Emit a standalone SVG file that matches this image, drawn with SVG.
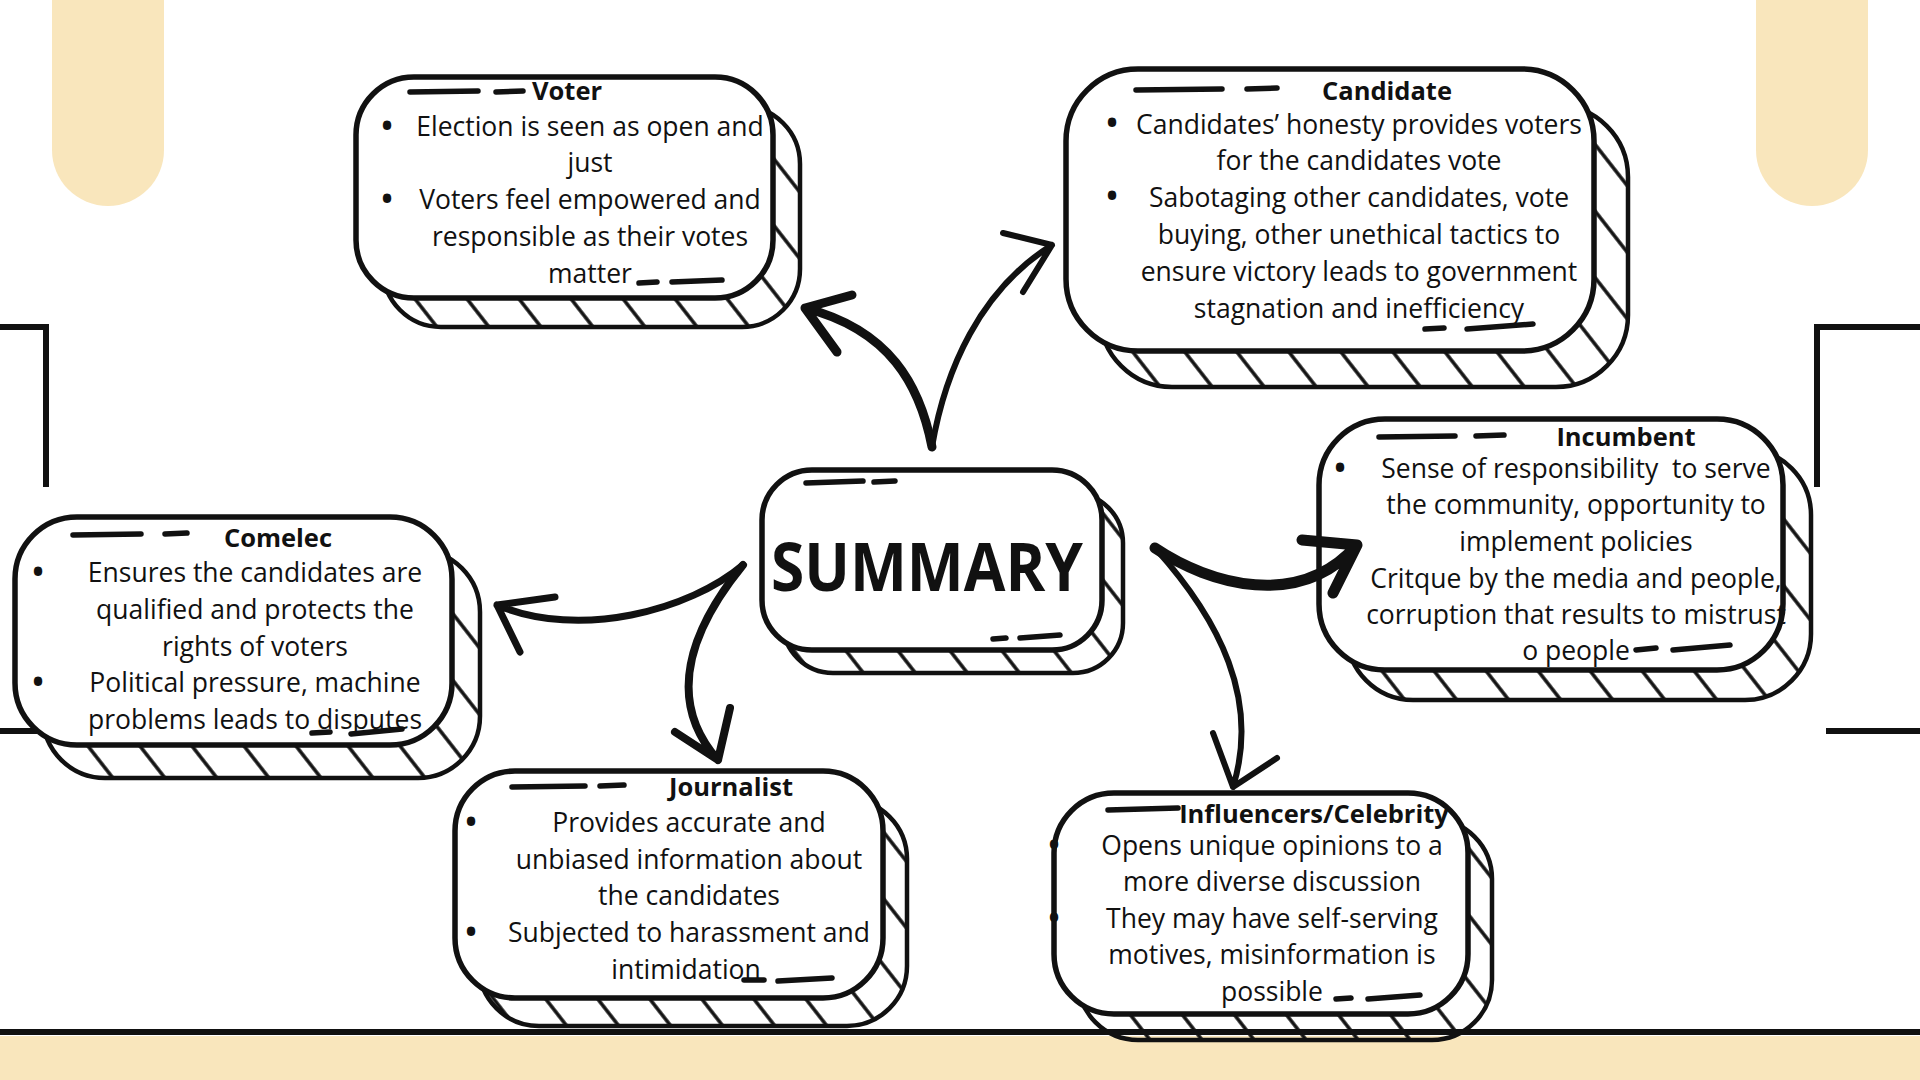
<svg xmlns="http://www.w3.org/2000/svg" width="1920" height="1080" viewBox="0 0 1920 1080">
<defs>
<pattern id="hatch" width="41" height="41" patternUnits="userSpaceOnUse" patternTransform="rotate(-38)">
<line x1="20" y1="-5" x2="20" y2="46" stroke="#111" stroke-width="3.5"/>
</pattern>
<style>
.back{fill:url(#hatch);stroke:#111;stroke-width:4.5}
.front{fill:#fff;stroke:#111;stroke-width:5.5}
.t{font-family:"Open Sans","Liberation Sans",sans-serif;font-size:26.5px;fill:#111;text-anchor:middle;white-space:pre}
.b{font-family:"Open Sans","Liberation Sans",sans-serif;font-size:40px;fill:#111;text-anchor:middle}
.h{font-family:"Open Sans","Liberation Sans",sans-serif;font-size:25.5px;font-weight:bold;fill:#111;text-anchor:middle}
.dash{stroke:#111;stroke-width:5.5;stroke-linecap:round;fill:none}
.arrow{fill:none;stroke:#111;stroke-linecap:round;stroke-linejoin:round}
.beige{fill:#F9E6BC}
.deco{stroke:#111;stroke-width:6;fill:none}
</style>
</defs>
<rect width="1920" height="1080" fill="#fff"/>
<rect class="beige" x="52" y="-80" width="112" height="286" rx="56"/>
<rect class="beige" x="1756" y="-80" width="112" height="286" rx="56"/>
<rect class="beige" x="0" y="1036" width="1920" height="44"/>

<g id="node-voter">
<rect class="back" x="383" y="106" width="417" height="221" rx="58"/>
<rect class="front" x="356" y="77" width="417" height="221" rx="58"/>
<line class="dash" x1="410" y1="92" x2="478" y2="91"/><line class="dash" x1="496" y1="92" x2="523" y2="91"/>
<text class="h" x="567" y="100">Voter</text>
<text class="b" x="387" y="140">•</text><text class="t" x="590" y="136">Election is seen as open and</text>
<text class="t" x="590" y="172">just</text>
<text class="b" x="387" y="213">•</text><text class="t" x="590" y="209">Voters feel empowered and</text>
<text class="t" x="590" y="246">responsible as their votes</text>
<text class="t" x="590" y="283">matter</text>
<line class="dash" x1="639" y1="283" x2="657" y2="282"/><line class="dash" x1="672" y1="282" x2="722" y2="280"/>
</g>

<g id="node-candidate">
<rect class="back" x="1100" y="105" width="528" height="282" rx="72"/>
<rect class="front" x="1066" y="69" width="528" height="282" rx="72"/>
<line class="dash" x1="1136" y1="90" x2="1222" y2="89"/><line class="dash" x1="1247" y1="89" x2="1277" y2="88"/>
<text class="h" x="1387" y="100">Candidate</text>
<text class="b" x="1112" y="137">•</text><text class="t" x="1359" y="134">Candidates’ honesty provides voters</text>
<text class="t" x="1359" y="170">for the candidates vote</text>
<text class="b" x="1112" y="210">•</text><text class="t" x="1359" y="207">Sabotaging other candidates, vote</text>
<text class="t" x="1359" y="244">buying, other unethical tactics to</text>
<text class="t" x="1359" y="281">ensure victory leads to government</text>
<text class="t" x="1359" y="318">stagnation and inefficiency</text>
<line class="dash" x1="1425" y1="329" x2="1444" y2="328"/><line class="dash" x1="1467" y1="329" x2="1533" y2="324"/>
</g>

<g id="node-summary">
<rect class="back" x="783" y="493" width="340" height="180" rx="50"/>
<rect class="front" x="762" y="470" width="340" height="180" rx="50"/>
<line class="dash" x1="806" y1="483" x2="863" y2="481"/><line class="dash" x1="874" y1="482" x2="895" y2="481"/>
<text class="h" x="927" y="591" style="font-size:66px" textLength="312" lengthAdjust="spacingAndGlyphs">SUMMARY</text>
<line class="dash" x1="993" y1="639" x2="1006" y2="638"/><line class="dash" x1="1020" y1="638" x2="1060" y2="635"/>
</g>

<g id="node-comelec">
<rect class="back" x="43" y="550" width="437" height="228" rx="62"/>
<rect class="front" x="15" y="517" width="437" height="228" rx="62"/>
<line class="dash" x1="73" y1="535" x2="141" y2="534"/><line class="dash" x1="165" y1="534" x2="187" y2="533"/>
<text class="h" x="278" y="547">Comelec</text>
<text class="b" x="38" y="586">•</text><text class="t" x="255" y="582">Ensures the candidates are</text>
<text class="t" x="255" y="619">qualified and protects the</text>
<text class="t" x="255" y="656">rights of voters</text>
<text class="b" x="38" y="696">•</text><text class="t" x="255" y="692">Political pressure, machine</text>
<text class="t" x="255" y="729">problems leads to disputes</text>
<line class="dash" x1="312" y1="733" x2="330" y2="732"/><line class="dash" x1="351" y1="734" x2="402" y2="729"/>
</g>

<g id="node-incumbent">
<rect class="back" x="1347" y="449" width="464" height="251" rx="66"/>
<rect class="front" x="1319" y="419" width="464" height="251" rx="66"/>
<line class="dash" x1="1379" y1="437" x2="1455" y2="436"/><line class="dash" x1="1476" y1="436" x2="1504" y2="435"/>
<text class="h" x="1626" y="446">Incumbent</text>
<text class="b" x="1340" y="482">•</text><text class="t" x="1576" y="478">Sense of responsibility  to serve</text>
<text class="t" x="1576" y="514">the community, opportunity to</text>
<text class="t" x="1576" y="551">implement policies</text>
<text class="t" x="1576" y="588">Critque by the media and people,</text>
<text class="t" x="1576" y="624">corruption that results to mistrust</text>
<text class="t" x="1576" y="660">o people</text>
<line class="dash" x1="1636" y1="650" x2="1656" y2="648"/><line class="dash" x1="1673" y1="650" x2="1730" y2="645"/>
</g>

<g id="node-journalist">
<rect class="back" x="479" y="799" width="428" height="227" rx="60"/>
<rect class="front" x="455" y="771" width="428" height="227" rx="60"/>
<line class="dash" x1="512" y1="787" x2="585" y2="786"/><line class="dash" x1="600" y1="786" x2="624" y2="785"/>
<text class="h" x="731" y="796">Journalist</text>
<text class="b" x="471" y="836">•</text><text class="t" x="689" y="832">Provides accurate and</text>
<text class="t" x="689" y="869">unbiased information about</text>
<text class="t" x="689" y="905">the candidates</text>
<text class="b" x="471" y="946">•</text><text class="t" x="689" y="942">Subjected to harassment and</text>
<text class="t" x="686" y="979">intimidation</text>
<line class="dash" x1="744" y1="980" x2="764" y2="980"/><line class="dash" x1="778" y1="981" x2="832" y2="978"/>
</g>

<g id="node-influencers">
<rect class="back" x="1078" y="819" width="414" height="221" rx="60"/>
<rect class="front" x="1054" y="793" width="414" height="221" rx="60"/>
<line class="dash" x1="1108" y1="810" x2="1178" y2="808"/>
<text class="h" x="1314" y="823">Influencers/Celebrity</text>
<text class="b" x="1054" y="859">•</text><text class="t" x="1272" y="855">Opens unique opinions to a</text>
<text class="t" x="1272" y="891">more diverse discussion</text>
<text class="b" x="1054" y="932">•</text><text class="t" x="1272" y="928">They may have self-serving</text>
<text class="t" x="1272" y="964">motives, misinformation is</text>
<text class="t" x="1272" y="1001">possible</text>
<line class="dash" x1="1336" y1="999" x2="1351" y2="998"/><line class="dash" x1="1368" y1="999" x2="1420" y2="995"/>
</g>

<g id="connectors">
<path class="arrow" stroke-width="9" d="M932,447 C920,385 890,330 805,308 M852,295 L805,308 L837,352"/>
<path class="arrow" stroke-width="6" d="M932,447 C945,370 980,290 1052,245 M1003,233 L1052,245 L1023,292"/>
<path class="arrow" stroke-width="7" d="M743,565 C690,610 580,640 497,605 M555,597 L497,605 L520,652"/>
<path class="arrow" stroke-width="8" d="M743,565 C690,630 665,700 718,760 M675,732 L718,760 L730,708"/>
<path class="arrow" stroke-width="11" d="M1155,548 C1210,585 1300,610 1357,545 M1302,540 L1357,545 L1333,593"/>
<path class="arrow" stroke-width="6" d="M1155,548 C1220,620 1260,700 1233,787 M1213,733 L1233,787 L1277,758"/>
</g>

<line class="deco" x1="0" y1="1032" x2="1920" y2="1032" stroke-width="9"/>
<path class="deco" d="M0,327 H46 V487"/>
<line class="deco" x1="0" y1="731" x2="37" y2="731" stroke-width="8"/>
<path class="deco" d="M1920,327 H1817 V487"/>
<line class="deco" x1="1826" y1="731" x2="1920" y2="731" stroke-width="7"/>
</svg>
